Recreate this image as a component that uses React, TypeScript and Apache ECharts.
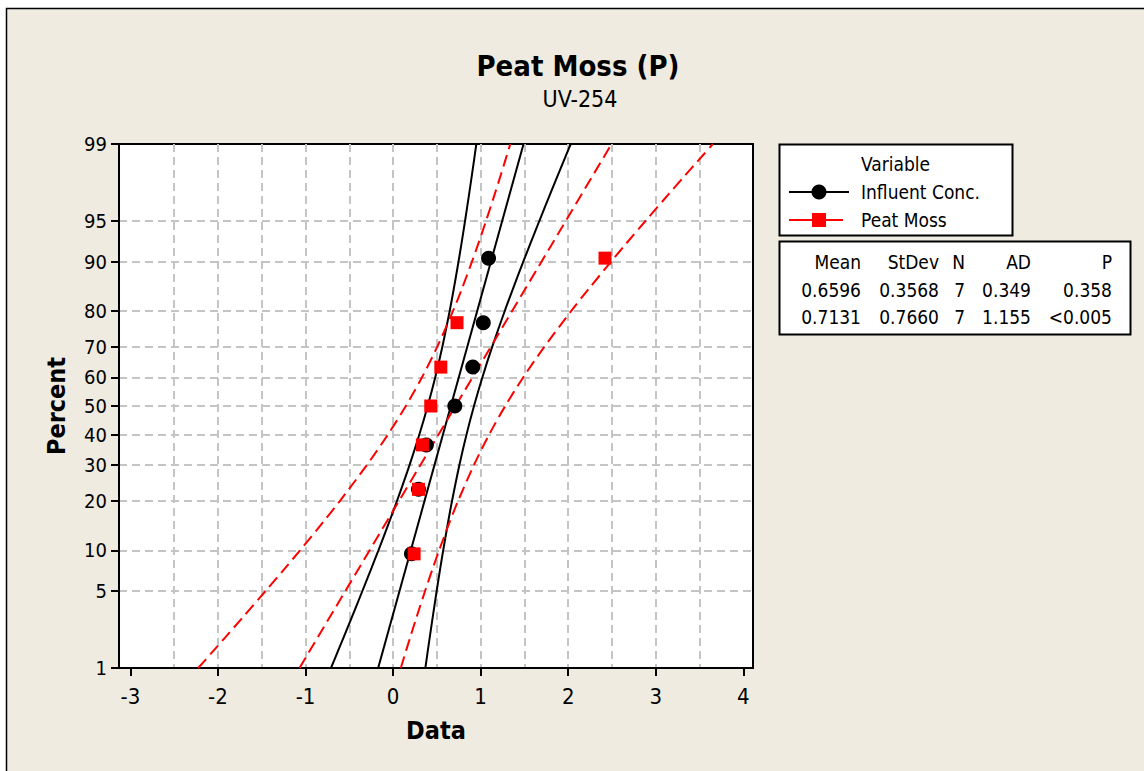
import React, { useEffect, useRef } from "react";
import * as echarts from "echarts";

// ---------- data ----------
const chartTitle = "Peat Moss (P)";
const chartSubtitle = "UV-254";
const xAxisTitle = "Data";
const yAxisTitle = "Percent";
const xTickValues = [-3, -2, -1, 0, 1, 2, 3, 4];
const xGridValues = [-3, -2.5, -2, -1.5, -1, -0.5, 0, 0.5, 1, 1.5, 2, 2.5, 3, 3.5, 4];
const yTickPercents = [1, 5, 10, 20, 30, 40, 50, 60, 70, 80, 90, 95, 99];
const variableNames = ["Influent Conc.", "Peat Moss"];
// plotting positions (percent) of the 7 ordered observations
const plotPercents = [9.46, 22.97, 36.49, 50.0, 63.51, 77.03, 90.54];
const influentValues = [0.21, 0.29, 0.38, 0.705, 0.91, 1.03, 1.09];
const peatMossValues = [0.24, 0.29, 0.335, 0.43, 0.545, 0.73, 2.42];
// summary table
const statHeaders = ["Mean", "StDev", "N", "AD", "P"];
const means = [0.6596, 0.7131];
const stdevs = [0.3568, 0.766];
const counts = [7, 7];
const adValues = ["0.349", "1.155"];
const pValues = ["0.358", "<0.005"];
// percent levels at which the fitted line's 95% confidence band is drawn
const bandPercents = [1, 1.5, 2, 3, 5, 7.5, 10, 15, 20, 30, 40, 50, 60, 70, 80, 85, 90, 92.5, 95, 97, 98, 98.5, 99];

// ---------- helpers ----------
function probit(p: number): number {
  const a = [-39.69683028665376, 220.9460984245205, -275.9285104469687, 138.357751867269, -30.66479806614716, 2.506628277459239];
  const b = [-54.47609879822406, 161.5858368580409, -155.6989798598866, 66.80131188771972, -13.28068155288572];
  const c = [-0.007784894002430293, -0.3223964580411365, -2.400758277161838, -2.549732539343734, 4.374664141464968, 2.938163982698783];
  const d = [0.007784695709041462, 0.3224671290700398, 2.445134137142996, 3.754408661907416];
  const plow = 0.02425;
  if (p < plow) {
    const q = Math.sqrt(-2 * Math.log(p));
    return (((((c[0] * q + c[1]) * q + c[2]) * q + c[3]) * q + c[4]) * q + c[5]) / ((((d[0] * q + d[1]) * q + d[2]) * q + d[3]) * q + 1);
  }
  if (p <= 1 - plow) {
    const q = p - 0.5;
    const r = q * q;
    return ((((((a[0] * r + a[1]) * r + a[2]) * r + a[3]) * r + a[4]) * r + a[5]) * q) / (((((b[0] * r + b[1]) * r + b[2]) * r + b[3]) * r + b[4]) * r + 1);
  }
  const q = Math.sqrt(-2 * Math.log(1 - p));
  return -(((((c[0] * q + c[1]) * q + c[2]) * q + c[3]) * q + c[4]) * q + c[5]) / ((((d[0] * q + d[1]) * q + d[2]) * q + d[3]) * q + 1);
}

const FONT = "'DejaVu Sans Condensed', 'Noto Sans', sans-serif";
const BG = "#efebe1";
const COLORS = ["#000000", "#ff0000"];
const LINE_TYPES: any[] = ["solid", [12, 6]];
const SYMBOLS = ["circle", "rect"];
const SYMBOL_SIZES = [15, 13];

const zMin = probit(0.01);
const zMax = probit(0.99);
const yTickZ = yTickPercents.map((p) => probit(p / 100));

function buildOption() {
  const seriesValues = [influentValues, peatMossValues];
  const lineSeries: any[] = [];
  const pointSeries: any[] = [];
  variableNames.forEach((name, i) => {
    const m = means[i];
    const s = stdevs[i];
    const n = counts[i];
    const lineStyle = { color: COLORS[i], width: 2, type: LINE_TYPES[i] };
    // fitted normal line (from table Mean / StDev)
    lineSeries.push({
      name: name + " fit",
      type: "line",
      data: [
        [m + s * zMin, zMin],
        [m + s * zMax, zMax],
      ],
      showSymbol: false,
      symbol: "none",
      lineStyle,
      silent: true,
    });
    // 95% confidence band for the percentiles
    [-1, 1].forEach((side) => {
      lineSeries.push({
        name: name + (side < 0 ? " lower" : " upper"),
        type: "line",
        smooth: 0.3,
        data: bandPercents.map((p) => {
          const z = probit(p / 100);
          const half = 1.96 * s * Math.sqrt(1 / n + (z * z) / (2 * (n - 1)));
          return [m + s * z + side * half, z];
        }),
        showSymbol: false,
        symbol: "none",
        lineStyle,
        silent: true,
      });
    });
    pointSeries.push({
      name,
      type: "scatter",
      symbol: SYMBOLS[i],
      symbolSize: SYMBOL_SIZES[i],
      itemStyle: { color: COLORS[i], opacity: 1 },
      data: seriesValues[i].map((v, k) => [v, probit(plotPercents[k] / 100)]),
      z: 5,
    });
  });

  // ----- legend & table as graphics -----
  const textStyle = (text: string, x: number, y: number, align: string, extra: any = {}) => ({
    type: "text",
    style: {
      text,
      x,
      y,
      fill: "#000",
      font: `19px ${FONT}`,
      align,
      verticalAlign: "middle",
      textAlign: align,
      textVerticalAlign: "middle",
      ...extra,
    },
  });

  const legendRows = [192, 220];
  const legendElements: any[] = [
    {
      type: "rect",
      shape: { x: 779.5, y: 144.5, width: 233, height: 91 },
      style: { fill: "#fff", stroke: "#000", lineWidth: 2 },
    },
    textStyle("Variable", 861, 164, "left"),
  ];
  variableNames.forEach((name, i) => {
    const y = legendRows[i];
    legendElements.push({
      type: "line",
      shape: { x1: 789, y1: y, x2: i === 0 ? 849 : 843, y2: y },
      style: { stroke: COLORS[i], lineWidth: 2 },
    });
    if (i === 0) {
      legendElements.push({ type: "circle", shape: { cx: 819, cy: y, r: 7.5 }, style: { fill: COLORS[i] } });
    } else {
      legendElements.push({ type: "rect", shape: { x: 812, y: y - 7, width: 14, height: 14 }, style: { fill: COLORS[i] } });
    }
    legendElements.push(textStyle(name, 861, y, "left"));
  });

  const colRight = [861, 939, 965, 1031, 1112];
  const rowY = [262, 289.5, 317];
  const tableElements: any[] = [
    {
      type: "rect",
      shape: { x: 779.5, y: 241.5, width: 351, height: 93 },
      style: { fill: "#fff", stroke: "#000", lineWidth: 2 },
    },
  ];
  statHeaders.forEach((h, c) => tableElements.push(textStyle(h, colRight[c], rowY[0], "right")));
  variableNames.forEach((_, r) => {
    const cells = [means[r].toFixed(4), stdevs[r].toFixed(4), String(counts[r]), adValues[r], pValues[r]];
    cells.forEach((t, c) => tableElements.push(textStyle(t, colRight[c], rowY[r + 1], "right")));
  });

  return {
    animation: false,
    backgroundColor: "#ffffff",
    textStyle: { fontFamily: FONT, color: "#000" },
    graphic: {
      elements: [
        {
          type: "rect",
          z: -10,
          silent: true,
          shape: { x: 6.5, y: 8.5, width: 1200, height: 800 },
          style: { fill: BG, stroke: "#000", lineWidth: 1.5 },
        },
        textStyle(chartTitle, 578, 66, "center", { font: `bold 29px ${FONT}` }),
        textStyle(chartSubtitle, 580, 99, "center", { font: `23px ${FONT}` }),
        ...legendElements,
        ...tableElements,
      ],
    },
    grid: {
      left: 119,
      top: 144,
      width: 634,
      height: 524,
      show: true,
      backgroundColor: "#ffffff",
      borderColor: "#000",
      borderWidth: 2,
    },
    xAxis: [
      {
        type: "value",
        min: -3.13,
        max: 4.11,
        name: xAxisTitle,
        nameLocation: "middle",
        nameGap: 50,
        nameTextStyle: { fontSize: 25, fontWeight: "bold", fontFamily: FONT, color: "#000" },
        axisLine: { show: true, onZero: false, lineStyle: { color: "#000", width: 2 } },
        axisTick: { show: true, length: 8, customValues: xTickValues, lineStyle: { color: "#000", width: 2 } },
        axisLabel: { customValues: xTickValues, fontSize: 22, fontFamily: FONT, color: "#000", margin: 17 },
        splitLine: { show: false },
      },
      {
        type: "value",
        min: -3.13,
        max: 4.11,
        position: "bottom",
        axisLine: { show: false },
        axisTick: { show: false, customValues: xGridValues },
        axisLabel: { show: false },
        splitLine: {
          show: true,
          showMinLine: false,
          showMaxLine: false,
          lineStyle: { color: "#c4c4c4", width: 2, type: [8, 5] },
        },
      },
    ],
    yAxis: {
      type: "value",
      min: zMin,
      max: zMax,
      name: yAxisTitle,
      nameLocation: "middle",
      nameGap: 50,
      nameTextStyle: { fontSize: 25, fontWeight: "bold", fontFamily: FONT, color: "#000" },
      axisLine: { show: true, onZero: false, lineStyle: { color: "#000", width: 2 } },
      axisTick: { show: true, length: 8, customValues: yTickZ, lineStyle: { color: "#000", width: 2 } },
      axisLabel: {
        customValues: yTickZ,
        fontSize: 20,
        fontFamily: FONT,
        color: "#000",
        margin: 12,
        formatter: (v: number) => {
          let best = 0;
          yTickZ.forEach((z, k) => {
            if (Math.abs(z - v) < Math.abs(yTickZ[best] - v)) best = k;
          });
          return String(yTickPercents[best]);
        },
      },
      splitLine: {
        show: true,
        showMinLine: false,
        showMaxLine: false,
        lineStyle: { color: "#c4c4c4", width: 2, type: [8, 5] },
      },
    },
    series: [...lineSeries, ...pointSeries],
  };
}

export default function App() {
  const ref = useRef<HTMLDivElement>(null);
  useEffect(() => {
    if (!ref.current) return;
    const chart = echarts.init(ref.current, null, { renderer: "svg" });
    chart.setOption(buildOption() as any);
    return () => chart.dispose();
  }, []);
  return <div ref={ref} style={{ position: "fixed", left: 0, top: 0, width: 1144, height: 771 }} />;
}
